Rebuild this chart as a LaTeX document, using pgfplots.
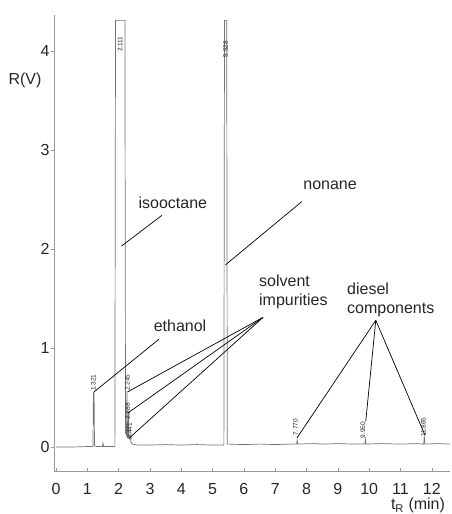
\documentclass[border=0pt]{standalone}
\usepackage{fontspec}
\setmainfont{Liberation Sans}
\usepackage{pgfplots}
\pgfplotsset{compat=1.18}
\begin{document}
\begin{tikzpicture}[font=\fontsize{16}{19}\selectfont]
\path[use as bounding box] (0pt,0pt) rectangle (452pt,-514pt);
\begin{axis}[
  at={(54pt,-471pt)}, anchor=south west,
  scale only axis, width=396pt, height=456pt,
  xmin=-0.064, xmax=12.58, ymin=-0.242, ymax=4.364,
  axis x line*=bottom, axis y line*=left,
  x axis line style={-, draw=gray!80},
  y axis line style={-, draw=gray!80},
  xtick={0,1,...,12}, ytick={0,1,2,3,4},
  xtick align=inside, ytick align=outside,
  major tick length=3pt,
  tick style={gray!80, thin},
  /pgf/number format/assume math mode=true,
  tick label style={font=\fontsize{16}{19}\selectfont, text=black!85},
  xticklabel style={inner sep=0pt, yshift=-12pt},
  yticklabel style={xshift=2pt},
  clip=false,
]
\addplot[gray!90!black, line width=0.7pt] coordinates {
(0,0) (0.5,0) (1.0,0.005) (1.16,0.005) (1.18,0.01) (1.195,0.55) (1.215,0.55) (1.23,0.01) (1.30,0.005)
(1.48,0.005) (1.50,0.04) (1.52,0.005) (1.88,0.005)
(1.90,4.31) (2.20,4.31) (2.22,0.14) (2.25,0.12) (2.265,0.56) (2.28,0.11) (2.30,0.10)
(2.315,0.34) (2.33,0.09) (2.35,0.08) (2.37,0.12) (2.39,0.05) (2.43,0.03) (2.6,0.02)
(3.0,0.02) (3.5,0.025) (4.0,0.02) (4.5,0.025) (5.0,0.02) (5.36,0.02)
(5.38,4.31) (5.45,4.31) (5.47,0.03) (6.0,0.025) (6.5,0.03) (7.0,0.025) (7.5,0.03)
(7.68,0.03) (7.70,0.07) (7.72,0.03) (8.2,0.035) (8.6,0.03) (9.0,0.035) (9.5,0.03)
(9.86,0.03) (9.88,0.08) (9.90,0.03) (10.4,0.035) (11.0,0.03) (11.5,0.035)
(11.74,0.03) (11.76,0.11) (11.78,0.03) (12.2,0.035) (12.58,0.03)
};
% annotation texts
\node[text=black!85] at (axis cs:3.73,2.47) {isooctane};
\node[text=black!85] at (axis cs:8.75,2.64) {nonane};
\node[text=black!85] at (axis cs:3.96,1.22) {ethanol};
\node[text=black!85, anchor=west, align=left, inner sep=0pt] at (axis cs:6.48,1.57) {solvent\\impurities};
\node[text=black!85, anchor=west, align=left, inner sep=0pt] at (axis cs:9.29,1.49) {diesel\\components};
% pointer lines
\draw[black, line width=0.7pt] (axis cs:3.38,2.34) -- (axis cs:2.09,2.03);
\draw[black, line width=0.7pt] (axis cs:7.85,2.48) -- (axis cs:5.41,1.84);
\draw[black, line width=0.7pt] (axis cs:3.29,1.09) -- (axis cs:1.21,0.556);
\draw[black, line width=0.7pt] (axis cs:6.61,1.31) -- (axis cs:2.28,0.556);
\draw[black, line width=0.7pt] (axis cs:6.61,1.31) -- (axis cs:2.29,0.343);
\draw[black, line width=0.7pt] (axis cs:6.61,1.31) -- (axis cs:2.37,0.10);
\draw[black, line width=0.7pt] (axis cs:10.21,1.28) -- (axis cs:7.69,0.09);
\draw[black, line width=0.7pt] (axis cs:10.21,1.28) -- (axis cs:9.89,0.26);
\draw[black, line width=0.7pt] (axis cs:10.21,1.28) -- (axis cs:11.78,0.12);
% peak retention labels
\begin{scope}[every node/.style={rotate=90, font=\fontsize{6.5}{7}\selectfont, inner sep=0.5pt, text=black!85}]
\node at (axis cs:2.05,4.07) {2.111};
\node at (axis cs:5.42,4.02) {5.528};
\node at (axis cs:1.19,0.65) {1.321};
\node at (axis cs:2.28,0.65) {2.245};
\node at (axis cs:2.29,0.36) {2.388};
\node at (axis cs:2.35,0.16) {2.441};
\node at (axis cs:7.64,0.20) {7.770};
\node at (axis cs:9.80,0.17) {9.950};
\node at (axis cs:11.73,0.20) {11.865};
\end{scope}
\end{axis}
\node[text=black!85] at (25pt,-80pt) {R(V)};
\node[text=black!85, anchor=south, inner sep=0pt] at (418pt,-513pt) {t\textsubscript{R} (min)};
\end{tikzpicture}
\end{document}
